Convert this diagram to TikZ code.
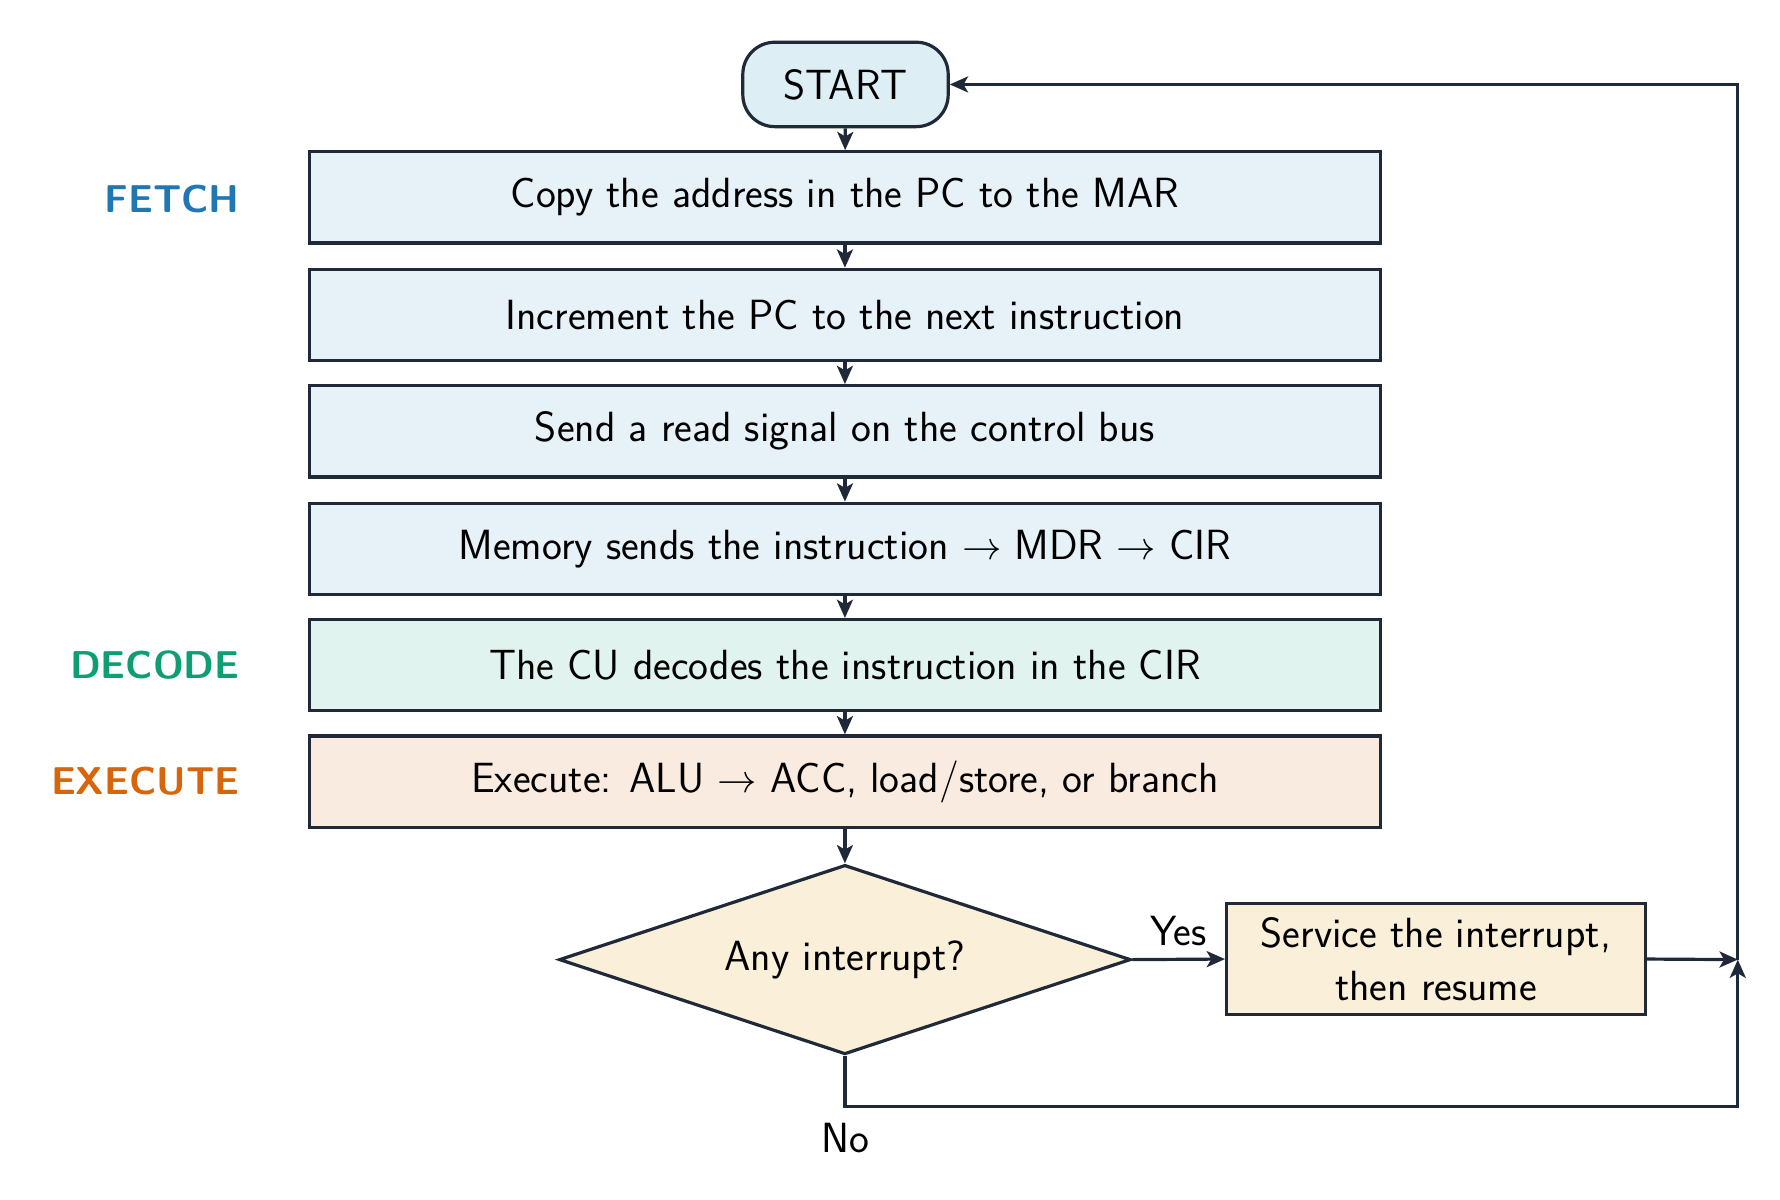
\documentclass[tikz,border=0pt]{standalone}
\usetikzlibrary{shapes.geometric,arrows.meta}
\begin{document}
\begin{tikzpicture}[x=0.5pt,y=-0.5pt,
  font=\sffamily\fontsize{18.5}{23}\selectfont,
  line width=1.4pt,
  ln/.style={draw=lc, line width=1.4pt},
  arr/.style={ln,-{Stealth[length=8pt,width=7pt,inset=2pt]}},
  stepbox/.style={ln,rectangle,minimum width=469.5pt,minimum height=40pt,inner sep=0pt},
  lab/.style={font=\sffamily\bfseries\fontsize{17}{21}\selectfont,anchor=east}]
\definecolor{lc}{HTML}{1F2937}
\definecolor{fb}{HTML}{E6F1F8}
\definecolor{gb}{HTML}{E0F3EE}
\definecolor{ob}{HTML}{FAEBE0}
\definecolor{yb}{HTML}{FAEFD8}
\definecolor{sb}{HTML}{DDEEF5}
\definecolor{cfetch}{HTML}{1F78B4}
\definecolor{cdec}{HTML}{0E9E74}
\definecolor{cexe}{HTML}{D8650A}
\useasboundingbox[fill=white] (0,0) rectangle (1560,1051);
\node[ln,fill=sb,rounded corners=14pt,minimum width=90pt,minimum height=37pt] (start) at (741,74) {START};
\node[stepbox,fill=fb] (s1) at (740.5,173) {Copy the address in the PC to the MAR};
\node[stepbox,fill=fb] (s2) at (740.5,276) {Increment the PC to the next instruction};
\node[stepbox,fill=fb] (s3) at (740.5,378) {Send a read signal on the control bus};
\node[stepbox,fill=fb] (s4) at (740.5,481) {Memory sends the instruction $\rightarrow$ MDR $\rightarrow$ CIR};
\node[stepbox,fill=gb] (s5) at (740.5,583) {The CU decodes the instruction in the CIR};
\node[stepbox,fill=ob] (s6) at (740.5,685) {Execute: ALU $\rightarrow$ ACC, load/store, or branch};
\node[ln,diamond,aspect=3.02,fill=yb,minimum width=250.5pt,minimum height=83pt,inner sep=0pt] (dia) at (740.5,841) {Any interrupt?};
\node[ln,fill=yb,minimum width=183.5pt,minimum height=48.5pt,align=center,inner sep=0pt] (svc) at (1258.5,840.5) {Service the interrupt,\\then resume};
\node[lab,text=cfetch] (lf) at (218,174) {FETCH};
\node[lab,text=cdec] (ld) at (218,583) {DECODE};
\node[lab,text=cexe] (le) at (218,685) {EXECUTE};
\coordinate (j) at (1523,841);
\coordinate (b) at (740.5,970);
\draw[arr] (start) -- (s1);
\draw[arr] (s1) -- (s2);
\draw[arr] (s2) -- (s3);
\draw[arr] (s3) -- (s4);
\draw[arr] (s4) -- (s5);
\draw[arr] (s5) -- (s6);
\draw[arr] (s6) -- (dia);
\draw[arr] (dia.east) -- node[above,pos=0.5,yshift=2pt] (yes) {Yes} (svc.west);
\draw[arr] (svc.east) -- (j);
\draw[arr] (dia.south) -- (b) -| (j);
\draw[arr] (j) |- (start.east);
\node (no) at (741,997) {No};
\end{tikzpicture}
\end{document}
